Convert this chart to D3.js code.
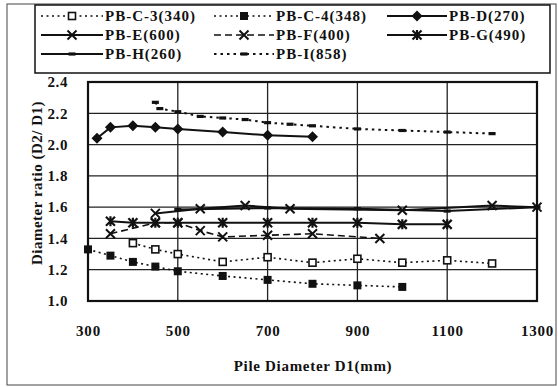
<!DOCTYPE html>
<html><head><meta charset="utf-8">
<script src="https://cdn.jsdelivr.net/npm/d3@7"></script>
<style>
html,body{margin:0;padding:0;background:#fff;}
svg{display:block;}
svg text{font-family:"Liberation Serif","Times New Roman",Times,serif;font-weight:bold;fill:#111;}
</style></head>
<body><svg id="c" width="558" height="387"></svg>
<script>
// ---- data ----
const xTicks = [300, 500, 700, 900, 1100, 1300];
const yTicks = [1.0, 1.2, 1.4, 1.6, 1.8, 2.0, 2.2, 2.4];
const seriesNames = ["PB-C-3(340)", "PB-C-4(348)", "PB-D(270)", "PB-E(600)", "PB-F(400)", "PB-G(490)", "PB-H(260)", "PB-I(858)"];
const pbC3 = [[400,1.37],[450,1.33],[500,1.30],[600,1.25],[700,1.28],[800,1.245],[900,1.27],[1000,1.245],[1100,1.26],[1200,1.24]];
const pbC4 = [[300,1.33],[350,1.29],[400,1.25],[450,1.22],[500,1.19],[600,1.16],[700,1.135],[800,1.11],[900,1.10],[1000,1.09]];
const pbD  = [[320,2.04],[350,2.11],[400,2.12],[450,2.11],[500,2.10],[600,2.08],[700,2.06],[800,2.05]];
const pbE  = [[450,1.56],[550,1.59],[650,1.61],[750,1.59],[1000,1.58],[1200,1.61],[1300,1.60]];
const pbF  = [[350,1.43],[450,1.50],[500,1.50],[550,1.45],[600,1.41],[700,1.42],[800,1.43],[950,1.40]];
const pbG  = [[350,1.51],[400,1.50],[450,1.50],[500,1.50],[600,1.50],[700,1.50],[800,1.50],[900,1.50],[1000,1.49],[1100,1.49]];
const pbH  = [[500,1.585],[700,1.595],[900,1.59],[1100,1.575],[1300,1.60]];
const pbI  = [[450,2.27],[460,2.23],[500,2.21],[550,2.18],[600,2.17],[650,2.16],[700,2.14],[750,2.13],[800,2.12],[900,2.10],[1000,2.09],[1100,2.08],[1200,2.07]];

// ---- styles ----
const styles = [
  {data:pbC3, dash:"2,3.5", w:1.6, marker:"squareOpen"},
  {data:pbC4, dash:"2,3.5", w:1.6, marker:"squareFilled"},
  {data:pbD,  dash:null,    w:2,   marker:"diamond"},
  {data:pbE,  dash:null,    w:2,   marker:"x"},
  {data:pbF,  dash:"7,4",   w:1.6, marker:"x"},
  {data:pbG,  dash:null,    w:2,   marker:"star"},
  {data:pbH,  dash:null,    w:2,   marker:"dash"},
  {data:pbI,  dash:"2.5,4", w:2,   marker:"dash"}
];

const svg = d3.select("#c");
const X0 = 88, X1 = 537, Y0 = 301, Y1 = 82;
const x = d3.scaleLinear().domain([300,1300]).range([X0,X1]);
const y = d3.scaleLinear().domain([1.0,2.4]).range([Y0,Y1]);
const FONT = '"Liberation Serif","Times New Roman",Times,serif';

// outer frame
svg.append("rect").attr("x",7).attr("y",4).attr("width",549).attr("height",381)
  .attr("fill","none").attr("stroke","#444").attr("stroke-width",1);

// gridlines
const g = svg.append("g");
g.selectAll("line.hg").data(yTicks.slice(1,-1)).join("line")
  .attr("x1",X0).attr("x2",X1).attr("y1",d=>y(d)).attr("y2",d=>y(d))
  .attr("stroke","#222").attr("stroke-width",1.3);
g.selectAll("line.vg").data(xTicks.slice(1,-1)).join("line")
  .attr("y1",Y0).attr("y2",Y1).attr("x1",d=>x(d)).attr("x2",d=>x(d))
  .attr("stroke","#222").attr("stroke-width",1.3);
// plot frame
svg.append("rect").attr("x",X0).attr("y",Y1).attr("width",X1-X0).attr("height",Y0-Y1)
  .attr("fill","none").attr("stroke","#111").attr("stroke-width",2.2);

// axes
const yAxis = svg.append("g").attr("transform",`translate(${X0},0)`)
  .call(d3.axisLeft(y).tickValues(yTicks).tickFormat(d3.format(".1f")).tickSize(0).tickPadding(20));
yAxis.select(".domain").remove();
yAxis.attr("font-family",FONT).attr("font-size",15);
yAxis.selectAll("text").style("letter-spacing","0.6px").attr("font-weight","bold").attr("fill","#111");

const xAxis = svg.append("g").attr("transform",`translate(0,${Y0})`)
  .call(d3.axisBottom(x).tickValues(xTicks).tickFormat(d3.format("d")).tickSize(0).tickPadding(24));
xAxis.select(".domain").remove();
xAxis.attr("font-family",FONT).attr("font-size",15);
xAxis.selectAll("text").style("letter-spacing","0.8px").attr("font-weight","bold").attr("fill","#111");

// axis titles
svg.append("text").attr("x",313).attr("y",371).attr("text-anchor","middle")
  .attr("font-family",FONT).attr("font-size",15).style("letter-spacing","0.7px").text("Pile Diameter D1(mm)");
svg.append("text").attr("transform","translate(42,183) rotate(-90)").attr("text-anchor","middle")
  .attr("font-family",FONT).attr("font-size",15).style("letter-spacing","0.5px").text("Diameter ratio (D2/ D1)");

// marker drawing
function drawMarker(sel, type, cx, cy){
  const m = sel.append("g").attr("transform",`translate(${cx},${cy})`);
  if(type==="squareOpen"){
    m.append("rect").attr("x",-3.5).attr("y",-3.5).attr("width",7).attr("height",7)
      .attr("fill","#fff").attr("stroke","#111").attr("stroke-width",1.6);
  } else if(type==="squareFilled"){
    m.append("rect").attr("x",-4).attr("y",-4).attr("width",8).attr("height",8).attr("fill","#111");
  } else if(type==="diamond"){
    m.append("path").attr("d","M0,-5.5L5.5,0L0,5.5L-5.5,0Z").attr("fill","#111");
  } else if(type==="x"){
    m.append("path").attr("d","M-4.5,-4.5L4.5,4.5M-4.5,4.5L4.5,-4.5").attr("stroke","#111").attr("stroke-width",2);
  } else if(type==="star"){
    m.append("path").attr("d","M-4.5,-4.5L4.5,4.5M-4.5,4.5L4.5,-4.5M0,-5L0,5").attr("stroke","#111").attr("stroke-width",2.2);
  } else if(type==="dash"){
    m.append("rect").attr("x",-3.5).attr("y",-1.6).attr("width",7).attr("height",3.2).attr("fill","#111");
  }
}

const line = d3.line().x(d=>x(d[0])).y(d=>y(d[1]));
const plot = svg.append("g");
styles.forEach(s=>{
  plot.append("path").attr("d",line(s.data)).attr("fill","none")
    .attr("stroke","#111").attr("stroke-width",s.w)
    .attr("stroke-dasharray",s.dash);
});
styles.forEach(s=>{
  s.data.forEach(d=>drawMarker(plot, s.marker, x(d[0]), y(d[1])));
});

// legend
svg.append("rect").attr("x",35).attr("y",5).attr("width",515).attr("height",68)
  .attr("fill","#fff").attr("stroke","#111").attr("stroke-width",1.5);
const colLine = [[41,103],[214,274],[387,447]];
const rowY = [16,35,54];
const lg = svg.append("g");
seriesNames.forEach((name,i)=>{
  const c = i%3, r = Math.floor(i/3);
  const [a,b] = colLine[c], yy = rowY[r];
  lg.append("line").attr("x1",a).attr("x2",b).attr("y1",yy).attr("y2",yy)
    .attr("stroke","#111").attr("stroke-width",styles[i].w).attr("stroke-dasharray",styles[i].dash);
  drawMarker(lg, styles[i].marker, (a+b)/2, yy);
  lg.append("text").attr("x",b+2).attr("y",yy+5)
    .attr("font-family",FONT).attr("font-size",15).attr("font-weight","bold")
    .style("letter-spacing","1px").text(name);
});
</script></body></html>
